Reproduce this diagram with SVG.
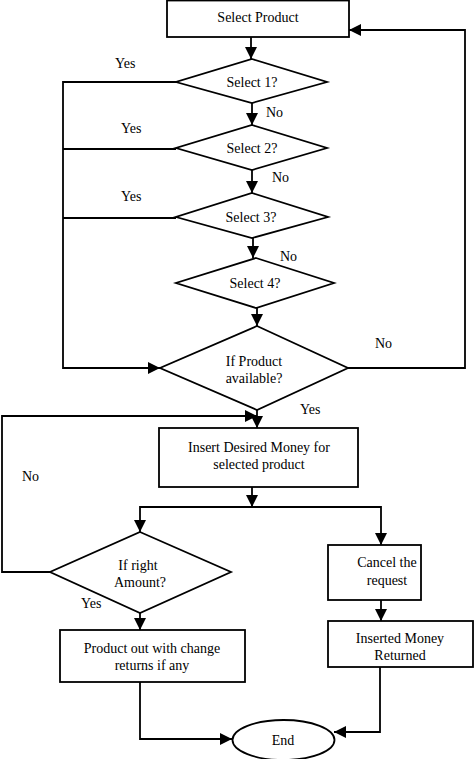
<svg xmlns="http://www.w3.org/2000/svg" width="474" height="759" viewBox="0 0 474 759">
<defs>
<marker id="ah" markerUnits="userSpaceOnUse" markerWidth="12" markerHeight="12" refX="12" refY="6" orient="auto">
<path d="M0,0 L12,6 L0,12 z" fill="#000"/>
</marker>
<style>
.s{fill:#fff;stroke:#000;stroke-width:1.8}
.c{fill:none;stroke:#000;stroke-width:1.8}
.a{marker-end:url(#ah)}
text{font-family:"Liberation Serif","Times New Roman",serif;font-size:14px;fill:#000}
.m{text-anchor:middle}
</style>
</defs>
<rect width="474" height="759" fill="#fff"/>
<g id="connectors">
<path class="c a" d="M251,37 V59"/>
<path class="c a" d="M252,103 V125"/>
<path class="c a" d="M252,170 V193"/>
<path class="c a" d="M253,238 V258"/>
<path class="c a" d="M257,308 V326"/>
<path class="c a" d="M176,82 H63 V368 H160"/>
<path class="c" d="M176,149 H63"/>
<path class="c" d="M176,218 H63"/>
<path class="c a" d="M348,368 H465 V30 H349"/>
<path class="c a" d="M257,410 V428"/>
<path class="c a" d="M50,572 H2 V416 H257"/>
<path class="c a" d="M252,487 V507"/>
<path class="c a" d="M252,507 H140 V532"/>
<path class="c a" d="M252,507 H381 V545"/>
<path class="c a" d="M140,613 V630"/>
<path class="c a" d="M381,600 V621"/>
<path class="c a" d="M140,682 V739 H232"/>
<path class="c a" d="M380,667 V732 H334"/>
<text x="115" y="68">Yes</text>
<text x="266" y="117">No</text>
<text x="121" y="133">Yes</text>
<text x="272" y="182">No</text>
<text x="121" y="201">Yes</text>
<text x="280" y="261">No</text>
<text x="375" y="348">No</text>
<text x="300" y="414">Yes</text>
<text x="22" y="481">No</text>
<text x="81" y="608">Yes</text>
</g>
<g id="select-product">
<rect class="s" x="167" y="0.5" width="182" height="36.5"/>
<text class="m" x="258" y="22">Select Product</text>
</g>
<g id="select1">
<polygon class="s" points="252,59 327,82 252,103 176,82"/>
<text class="m" x="252" y="87">Select 1?</text>
</g>
<g id="select2">
<polygon class="s" points="252,125 327,148 252,170 176,148"/>
<text class="m" x="252" y="153">Select 2?</text>
</g>
<g id="select3">
<polygon class="s" points="252,193 328,217 252,238 176,217"/>
<text class="m" x="251" y="222">Select 3?</text>
</g>
<g id="select4">
<polygon class="s" points="256,258 334,283 256,308 176,283"/>
<text class="m" x="255" y="288">Select 4?</text>
</g>
<g id="product-available">
<polygon class="s" points="257,326 348,368 257,410 160,368"/>
<text class="m" x="254" y="366">If Product</text>
<text class="m" x="254" y="383">available?</text>
</g>
<g id="insert-money">
<rect class="s" x="159" y="428" width="199" height="59"/>
<text class="m" x="259" y="452">Insert Desired Money for</text>
<text class="m" x="259" y="469">selected product</text>
</g>
<g id="right-amount">
<polygon class="s" points="140,532 231,572 140,613 50,572"/>
<text class="m" x="138" y="570">If right</text>
<text class="m" x="140" y="587">Amount?</text>
</g>
<g id="product-out">
<rect class="s" x="60" y="630" width="185" height="52"/>
<text class="m" x="152" y="653">Product out with change</text>
<text class="m" x="152" y="670">returns if any</text>
</g>
<g id="cancel">
<rect class="s" x="328" y="545" width="93" height="55"/>
<text class="m" x="387" y="567">Cancel the</text>
<text class="m" x="387" y="585">request</text>
</g>
<g id="money-returned">
<rect class="s" x="328" y="621" width="145" height="46"/>
<text class="m" x="400" y="643">Inserted Money</text>
<text class="m" x="400" y="660">Returned</text>
</g>
<g id="end">
<ellipse class="s" cx="283.5" cy="740" rx="51" ry="20"/>
<text class="m" x="283" y="745">End</text>
</g>
</svg>
